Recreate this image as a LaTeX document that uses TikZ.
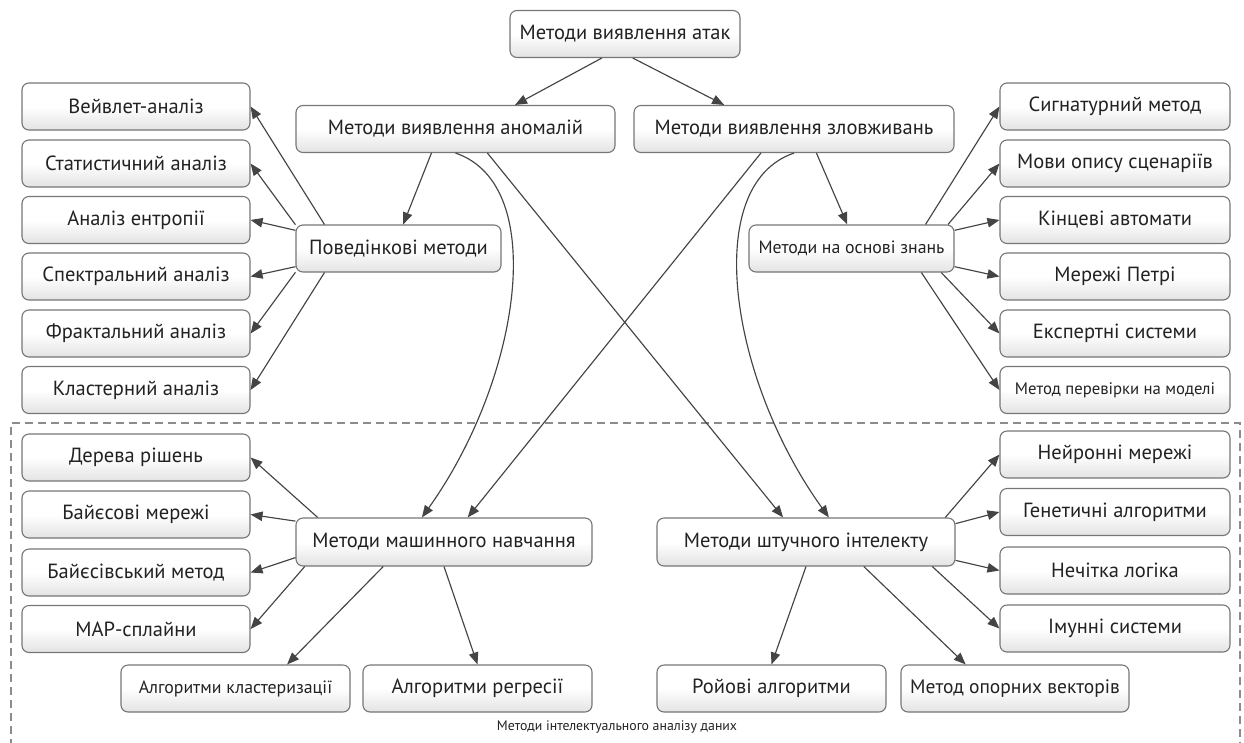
\documentclass[tikz,border=0pt]{standalone}
\usepackage{fontspec}
\setmainfont{PT Sans}
\usetikzlibrary{arrows.meta,shadings}
\definecolor{boxline}{HTML}{767676}
\definecolor{txt}{HTML}{222222}
\definecolor{connc}{HTML}{444444}
\definecolor{dashc}{HTML}{8C8C8C}
\tikzset{
 box/.style={draw=boxline, line width=1.1pt, rounded corners=7pt, top color=white, bottom color=black!11, middle color=white, text=txt, font=\fontsize{20.5}{23}\selectfont, inner sep=0pt, minimum height=47pt},
 smalltext/.style={font=\fontsize{17.8}{20}\selectfont},
 conn/.style={draw=connc, line width=1.15pt, -{Triangle[length=12pt,width=9.5pt]}},
}
\begin{document}
\begin{tikzpicture}[x=1pt,y=-1pt]
\useasboundingbox (0,0) rectangle (1244,742);
% dashed frame
\draw[dashc, line width=1.2pt, dash pattern=on 8pt off 5pt] (11,760) -- (11,423) -- (1240,423) -- (1240,760);
\node[text=txt, font=\fontsize{13.8}{16}\selectfont] (lbl) at (617,727) {Методи інтелектуального аналізу даних};

\node[box, minimum width=230pt] (top) at (625,34) {Методи виявлення атак};
\node[box, minimum width=319pt] (ano) at (455.5,129) {Методи виявлення аномалій};
\node[box, minimum width=320pt] (abu) at (794,129) {Методи виявлення зловживань};
\node[box, minimum width=205pt] (beh) at (398.5,248.5) {Поведінкові методи};
\node[box, smalltext, minimum width=205pt] (kno) at (851.5,248.5) {Методи на основі знань};

\node[box, minimum width=228pt] (l1) at (136,106.5) {Вейвлет-аналіз};
\node[box, minimum width=228pt] (l2) at (136,163.5) {Статистичний аналіз};
\node[box, minimum width=228pt] (l3) at (136,220) {Аналіз ентропії};
\node[box, minimum width=228pt] (l4) at (136,276.5) {Спектральний аналіз};
\node[box, minimum width=228pt] (l5) at (136,333.5) {Фрактальний аналіз};
\node[box, minimum width=228pt] (l6) at (136,390) {Кластерний аналіз};

\node[box, minimum width=230pt] (r1) at (1115,106.5) {Сигнатурний метод};
\node[box, minimum width=230pt] (r2) at (1115,163.5) {Мови опису сценаріїв};
\node[box, minimum width=230pt] (r3) at (1115,220) {Кінцеві автомати};
\node[box, minimum width=230pt] (r4) at (1115,276.5) {Мережі Петрі};
\node[box, minimum width=230pt] (r5) at (1115,333.5) {Експертні системи};
\node[box, font=\fontsize{16.7}{19}\selectfont, minimum width=230pt] (r6) at (1115,390) {Метод перевірки на моделі};

\node[box, minimum width=296pt, minimum height=48pt] (ml) at (444,542) {Методи машинного навчання};
\node[box, minimum width=298pt, minimum height=48pt] (ai) at (806,542) {Методи штучного інтелекту};

\node[box, minimum width=228pt] (b1) at (136,457.5) {Дерева рішень};
\node[box, minimum width=228pt] (b2) at (136,514.5) {Байєсові мережі};
\node[box, minimum width=228pt] (b3) at (136,572.5) {Байєсівський метод};
\node[box, minimum width=228pt] (b4) at (136,629) {MAP-сплайни};

\node[box, minimum width=230pt] (n1) at (1115,454.5) {Нейронні мережі};
\node[box, minimum width=230pt] (n2) at (1115,512) {Генетичні алгоритми};
\node[box, minimum width=230pt] (n3) at (1115,570.5) {Нечітка логіка};
\node[box, minimum width=230pt] (n4) at (1115,628.5) {Імунні системи};

\node[box, smalltext, minimum width=229pt] (cl) at (235.5,688.5) {Алгоритми кластеризації};
\node[box, minimum width=229pt] (reg) at (477.5,688.5) {Алгоритми регресії};
\node[box, minimum width=229pt] (sw) at (771.5,688.5) {Ройові алгоритми};
\node[box, font=\fontsize{19.5}{22}\selectfont, minimum width=228pt] (svm) at (1015,688.5) {Метод опорних векторів};

% top connectors
\draw[conn] (top.226) -- (ano.22);
\draw[conn] (top.288) -- (abu.161.6);
\draw[conn] (ano.225.6) -- (beh.79);
\draw[conn] (abu.313.8) -- (kno.100.6);
\draw[conn] (ano.south) .. controls (550,185) and (520,380) .. (ml.132.5);
\draw[conn] (ano.323.6) -- (ai.133.8);
\draw[conn] (abu.216.9) -- (ml.46.2);
\draw[conn] (abu.south) .. controls (700,185) and (730,380) .. (ai.47.5);

% behavioural fan
\draw[conn] (beh.162) -- (l1.east);
\draw[conn] (beh.167.3) -- (l2.east);
\draw[conn] (beh.170.8) -- (l3.east);
\draw[conn] (beh.190) -- (l4.east);
\draw[conn] (beh.193) -- (l5.east);
\draw[conn] (beh.198) -- (l6.east);

% knowledge fan
\draw[conn] (kno.18.2) -- (r1.west);
\draw[conn] (kno.14.4) -- (r2.west);
\draw[conn] (kno.10.8) -- (r3.west);
\draw[conn] (kno.350.3) -- (r4.west);
\draw[conn] (kno.345.6) -- (r5.west);
\draw[conn] (kno.341.8) -- (r6.west);

% machine learning fan
\draw[conn] (ml.169.2) -- (b1.east);
\draw[conn] (ml.172.3) -- (b2.east);
\draw[conn] (ml.186.5) -- (b3.east);
\draw[conn] (ml.190.8) -- (b4.east);
\draw[conn] (ml.202.5) -- (cl.25);
\draw[conn] (ml.south) -- (reg.north);

% AI fan
\draw[conn] (ai.10.5) -- (n1.west);
\draw[conn] (ai.7.3) -- (n2.west);
\draw[conn] (ai.353.5) -- (n3.west);
\draw[conn] (ai.349.5) -- (n4.west);
\draw[conn] (ai.south) -- (sw.north);
\draw[conn] (ai.337.2) -- (svm.154);
\end{tikzpicture}
\end{document}
